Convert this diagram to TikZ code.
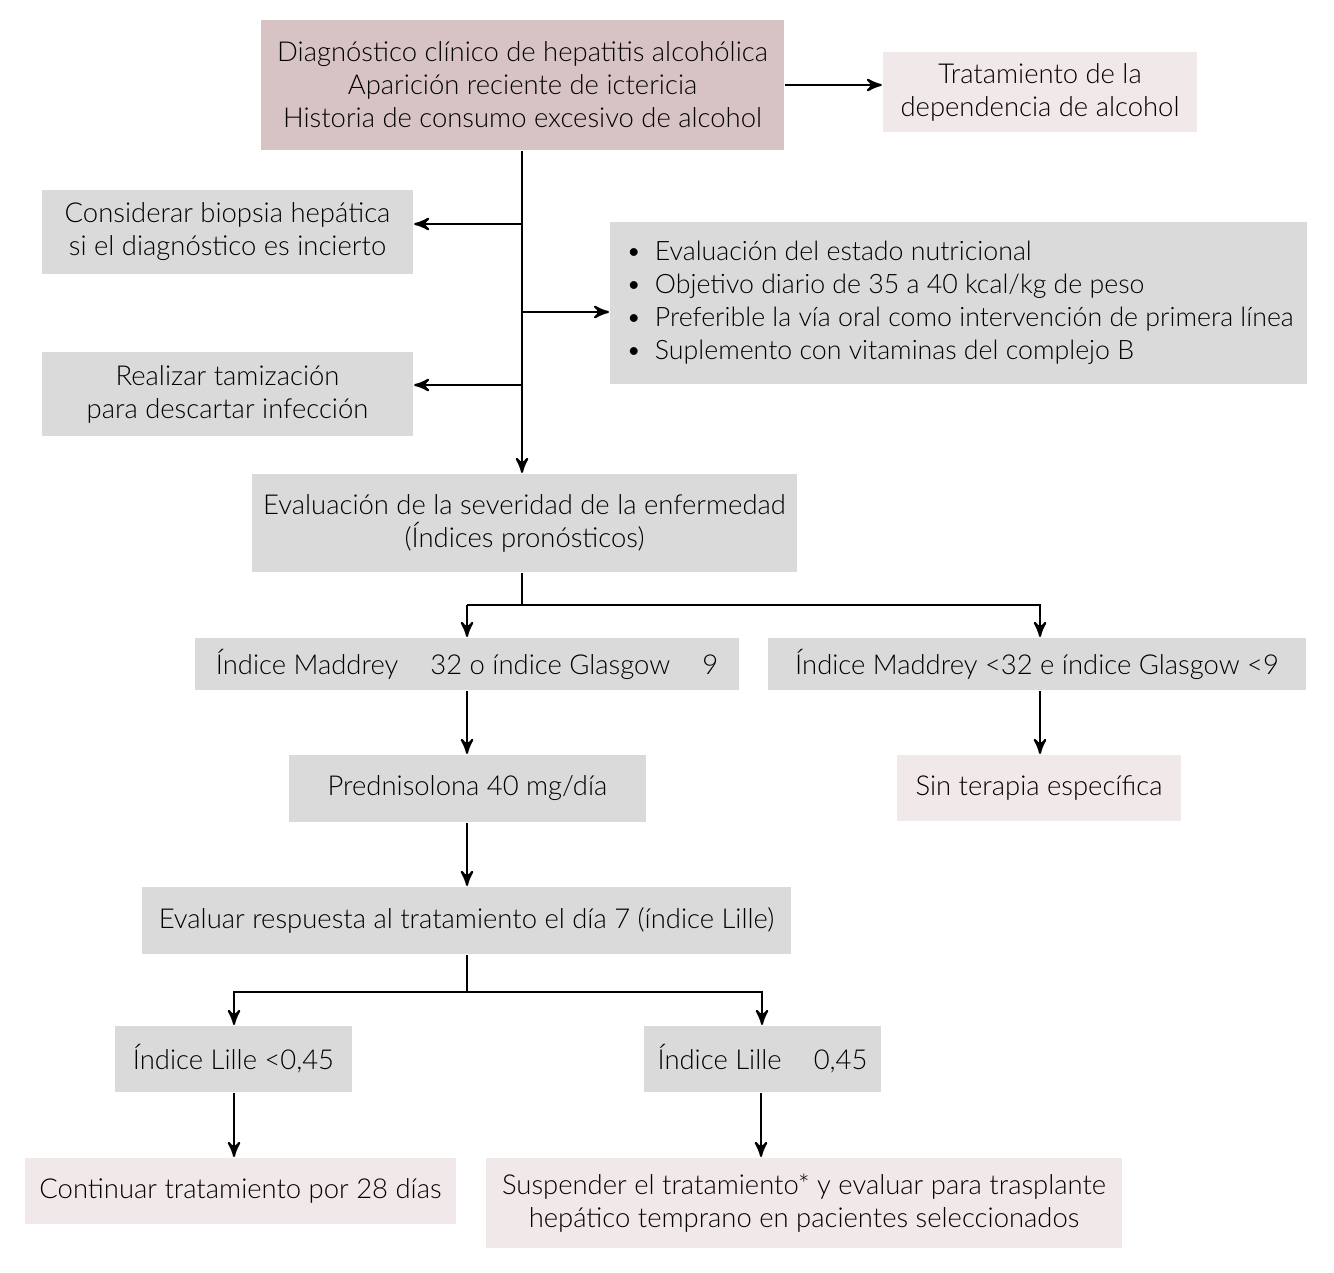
\documentclass[tikz,border=0pt]{standalone}
\usepackage{fontspec}
\setmainfont{Lato}[UprightFont={* Light}]
\usetikzlibrary{arrows}
\definecolor{rosa}{HTML}{D8C3C4}
\definecolor{rosaclaro}{HTML}{F0E8E9}
\definecolor{gris}{HTML}{DADADA}

\begin{document}
\begin{tikzpicture}[x=0.01cm,y=-0.01cm,>=stealth',line width=0.6pt]
\tikzstyle{every node}=[inner sep=0pt, align=center, font=\fontsize{7.8}{9.4}\selectfont]
\tikzstyle{caja}=[fill=gris]
\tikzstyle{cajarosa}=[fill=rosaclaro]
\useasboundingbox (0,0) rectangle (1334,1272);
\draw (522.5,85) node (diag) [fill=rosa, minimum width=5.23cm, minimum height=1.30cm] {Diagnóstico clínico de hepatitis alcohólica\\Aparición reciente de ictericia\\Historia de consumo excesivo de alcohol};
\draw (1040,92) node (trat) [cajarosa, minimum width=3.14cm, minimum height=0.80cm] {Tratamiento de la\\dependencia de alcohol};
\draw (227.5,232) node (biop) [caja, minimum width=3.71cm, minimum height=0.84cm] {Considerar biopsia hepática\\si el diagnóstico es incierto};
\draw (609,221) node (nutri) [caja, anchor=north west, minimum width=6.97cm, minimum height=1.62cm] {};
\draw (nutri.west) node [anchor=west, xshift=0.16cm, align=left, font=\fontsize{7.6}{9.4}\selectfont] {•\hspace{0.5em}Evaluación del estado nutricional\\•\hspace{0.5em}Objetivo diario de 35 a 40 kcal/kg de peso\\•\hspace{0.5em}Preferible la vía oral como intervención de primera línea\\•\hspace{0.5em}Suplemento con vitaminas del complejo B};
\draw (227.5,394) node (tami) [caja, minimum width=3.71cm, minimum height=0.84cm] {Realizar tamización\\para descartar infección};
\draw (524.5,523) node (sev) [caja, minimum width=5.45cm, minimum height=0.98cm] {Evaluación de la severidad de la enfermedad\\(Índices pronósticos)};
\draw (467,664) node (mad1) [caja, minimum width=5.44cm, minimum height=0.52cm] {Índice Maddrey \hspace{0.9em}32 o índice Glasgow \hspace{0.9em}9};
\draw (1037,664) node (mad2) [caja, minimum width=5.38cm, minimum height=0.52cm] {Índice Maddrey <32 e índice Glasgow <9};
\draw (467.5,788.5) node (pred) [caja, minimum width=3.57cm, minimum height=0.67cm] {Prednisolona 40 mg/día};
\draw (1039,788) node (sin) [cajarosa, minimum width=2.84cm, minimum height=0.66cm] {Sin terapia específica};
\draw (466.5,920.5) node (resp) [caja, minimum width=6.49cm, minimum height=0.67cm] {Evaluar respuesta al tratamiento el día 7 (índice Lille)};
\draw (233.5,1059) node (lil1) [caja, minimum width=2.37cm, minimum height=0.66cm] {Índice Lille <0,45};
\draw (762.5,1059) node (lil2) [caja, minimum width=2.37cm, minimum height=0.66cm] {Índice Lille \hspace{0.9em}0,45};
\draw (240.5,1191) node (cont) [cajarosa, minimum width=4.31cm, minimum height=0.66cm] {Continuar tratamiento por 28 días};
\draw (804,1203) node (susp) [cajarosa, minimum width=6.36cm, minimum height=0.90cm] {Suspender el tratamiento* y evaluar para trasplante\\hepático temprano en pacientes seleccionados};
% conectores
\draw[->] (diag.east) -- (trat.west |- diag.east);
\draw[->] (diag.south -| 522,0) -- (sev.north -| 522,0);
\draw[->] (522,224) -- (biop.east |- 0,224);
\draw[->] (522,312) -- (nutri.west |- 0,312);
\draw[->] (522,385) -- (tami.east |- 0,385);
\draw (sev.south -| 522,0) -- (522,605);
\draw[->] (467,605) -- (mad1.north -| 467,0);
\draw[->] (467,605) -- (1040,605) -- (mad2.north -| 1040,0);
\draw[->] (mad1.south -| 467,0) -- (pred.north -| 467,0);
\draw[->] (mad2.south -| 1040,0) -- (sin.north -| 1040,0);
\draw[->] (pred.south -| 467,0) -- (resp.north -| 467,0);
\draw (resp.south -| 467,0) -- (467,992);
\draw[->] (467,992) -- (234,992) -- (lil1.north -| 234,0);
\draw[->] (467,992) -- (762,992) -- (lil2.north -| 762,0);
\draw[->] (lil1.south -| 234,0) -- (cont.north -| 234,0);
\draw[->] (lil2.south -| 761,0) -- (susp.north -| 761,0);
\end{tikzpicture}
\end{document}
